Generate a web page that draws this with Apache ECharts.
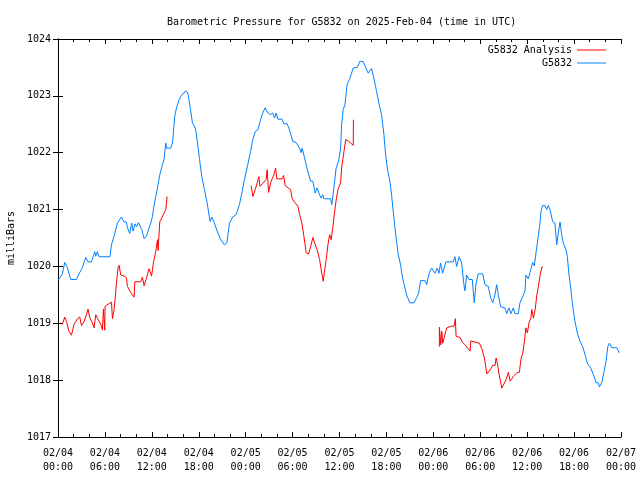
<!DOCTYPE html>
<html>
<head>
<meta charset="utf-8">
<script src="https://cdn.jsdelivr.net/npm/echarts@6/dist/echarts.min.js"></script>
<style>html,body{margin:0;padding:0;background:#fff;}#chart{width:640px;height:480px;}</style>
</head>
<body>
<div id="chart"></div>
<script>
// x in hours since 2025-02-04 00:00 UTC
var xTickLabels = ["02/04\n00:00","02/04\n06:00","02/04\n12:00","02/04\n18:00","02/05\n00:00","02/05\n06:00","02/05\n12:00","02/05\n18:00","02/06\n00:00","02/06\n06:00","02/06\n12:00","02/06\n18:00","02/07\n00:00"];
var yTickLabels = ["1017","1018","1019","1020","1021","1022","1023","1024"];

var stationHours = [0.0,0.56,0.86,1.20,1.63,2.35,2.69,3.12,3.54,3.84,4.27,4.70,4.82,5.04,5.25,6.65,6.83,7.17,7.60,8.11,8.45,8.75,8.88,9.17,9.43,9.60,9.85,10.03,10.29,10.71,11.01,11.31,11.65,11.86,12.08,12.28,12.50,12.72,13.01,13.36,13.56,13.78,13.91,14.42,14.64,14.93,15.15,15.48,15.83,16.12,16.34,16.60,16.89,17.20,17.40,17.62,17.84,18.10,18.39,18.73,19.07,19.45,19.67,20.01,20.44,20.78,21.29,21.59,21.93,22.35,22.78,23.21,23.55,23.85,24.27,24.62,24.91,25.21,25.55,25.90,26.19,26.49,26.83,27.18,27.47,27.69,27.90,28.11,28.66,28.88,29.30,29.61,30.03,30.45,30.89,31.09,31.22,31.53,31.95,32.30,32.59,32.89,33.14,33.45,33.65,33.87,34.00,34.86,35.02,35.28,35.57,35.88,36.14,36.27,36.47,36.69,36.98,37.33,37.55,37.75,38.26,38.61,39.03,39.37,39.67,40.10,40.44,40.74,41.08,41.38,41.68,41.89,42.15,42.44,42.66,42.87,43.09,43.30,43.51,43.81,44.02,44.27,44.58,45.00,45.52,45.86,46.12,46.37,46.92,47.14,47.47,47.78,48.20,48.50,48.72,48.93,49.19,49.61,50.54,50.76,50.98,51.31,51.62,51.91,52.04,52.26,52.55,52.98,53.23,53.45,53.74,54.31,54.60,55.02,55.33,55.59,55.88,56.10,56.31,56.61,57.16,57.38,57.67,57.93,58.22,58.44,58.86,59.08,59.43,59.72,59.85,60.14,60.45,60.70,60.91,61.13,61.42,61.64,61.77,61.98,62.28,62.50,62.70,62.92,63.26,63.56,63.78,63.98,64.20,64.42,64.62,64.97,65.13,65.35,65.57,65.82,66.12,66.41,66.76,67.10,67.40,67.69,68.13,68.46,68.81,69.10,69.23,69.54,69.83,70.09,70.31,70.51,70.82,71.46,71.79];
var stationPressure = [1019.75,1019.87,1020.07,1019.98,1019.77,1019.77,1019.87,1019.98,1020.16,1020.08,1020.08,1020.26,1020.18,1020.26,1020.17,1020.17,1020.38,1020.53,1020.76,1020.87,1020.78,1020.78,1020.68,1020.58,1020.76,1020.62,1020.75,1020.70,1020.77,1020.65,1020.49,1020.53,1020.68,1020.76,1020.88,1021.07,1021.23,1021.38,1021.61,1021.79,1021.88,1022.17,1022.08,1022.08,1022.17,1022.64,1022.79,1022.93,1023.02,1023.05,1023.09,1023.05,1022.81,1022.52,1022.48,1022.40,1022.17,1021.88,1021.58,1021.35,1021.12,1020.79,1020.87,1020.76,1020.59,1020.48,1020.38,1020.41,1020.76,1020.87,1020.91,1021.09,1021.32,1021.53,1021.79,1022.02,1022.23,1022.37,1022.40,1022.58,1022.70,1022.79,1022.70,1022.67,1022.70,1022.61,1022.70,1022.59,1022.59,1022.51,1022.51,1022.40,1022.20,1022.18,1022.08,1022.00,1022.08,1021.91,1021.67,1021.50,1021.50,1021.29,1021.38,1021.26,1021.20,1021.26,1021.19,1021.19,1021.09,1021.38,1021.73,1021.85,1022.08,1022.49,1022.76,1022.84,1023.20,1023.31,1023.40,1023.49,1023.50,1023.61,1023.60,1023.49,1023.40,1023.48,1023.28,1023.08,1022.84,1022.67,1022.32,1021.97,1021.70,1021.50,1021.26,1020.97,1020.68,1020.44,1020.21,1020.03,1019.83,1019.68,1019.50,1019.36,1019.36,1019.45,1019.53,1019.75,1019.75,1019.68,1019.88,1019.97,1019.88,1019.97,1019.88,1020.06,1019.88,1020.08,1020.08,1020.17,1020.00,1020.17,1020.06,1019.68,1019.57,1019.85,1019.77,1019.77,1019.36,1019.68,1019.87,1019.87,1019.68,1019.65,1019.45,1019.36,1019.50,1019.68,1019.50,1019.29,1019.27,1019.17,1019.27,1019.17,1019.27,1019.17,1019.17,1019.36,1019.47,1019.57,1019.85,1019.78,1019.94,1020.07,1020.01,1020.24,1020.53,1020.76,1020.97,1021.07,1021.07,1021.00,1021.07,1021.00,1020.79,1020.76,1020.38,1020.59,1020.78,1020.56,1020.41,1020.29,1020.18,1019.85,1019.62,1019.30,1019.03,1018.83,1018.68,1018.59,1018.45,1018.30,1018.21,1018.10,1017.96,1017.95,1017.88,1017.96,1018.15,1018.33,1018.59,1018.65,1018.57,1018.57,1018.48];

var analysisHours = [0.56,0.86,1.08,1.41,1.72,2.05,2.48,2.78,3.00,3.33,3.64,3.84,4.10,4.40,4.61,4.83,5.04,5.25,5.47,5.68,5.81,5.98,6.02,6.45,6.84,6.96,7.17,7.30,7.48,7.68,7.81,8.03,8.45,8.75,8.88,9.31,9.73,9.82,10.59,10.80,11.01,11.32,11.65,11.96,12.21,12.50,12.72,12.80,13.02,13.27,13.57,13.79,13.95,
  19.0,
  24.70,24.92,25.22,25.47,25.69,25.82,25.98,26.20,26.62,26.75,26.93,27.19,27.35,27.61,27.83,27.99,28.67,28.85,29.06,29.31,29.75,29.95,30.26,30.68,30.90,31.19,31.45,31.74,32.05,32.31,32.60,32.90,33.15,33.46,33.66,33.92,34.10,34.30,34.52,34.74,34.94,35.16,35.38,35.58,35.80,36.01,36.14,36.27,36.57,36.79,37.12,37.76,37.78,
  43.0,
  48.77,48.78,48.95,49.08,49.20,49.37,49.72,50.36,50.65,50.82,50.91,51.42,51.71,52.06,52.48,52.70,52.79,53.34,53.89,54.20,54.53,54.84,55.26,55.60,55.90,56.03,56.19,56.41,56.76,56.96,57.31,57.60,57.82,58.24,58.68,59.01,59.19,59.44,59.65,59.83,60.03,60.25,60.47,60.60,60.80,61.02,61.24,61.44,61.66,61.88,62.00];
var analysisPressure = [1018.98,1019.11,1019.03,1018.86,1018.79,1018.98,1019.08,1019.11,1018.96,1019.03,1019.15,1019.25,1019.08,1019.01,1018.92,1019.15,1019.09,1019.06,1018.98,1018.88,1019.25,1018.88,1019.30,1019.34,1019.37,1019.08,1019.24,1019.42,1019.71,1019.97,1020.02,1019.85,1019.83,1019.80,1019.65,1019.54,1019.46,1019.73,1019.73,1019.81,1019.66,1019.80,1019.96,1019.83,1020.07,1020.26,1020.47,1020.28,1020.79,1020.85,1020.94,1021.00,1021.23,
  null,
  1021.42,1021.23,1021.35,1021.47,1021.58,1021.41,1021.42,1021.46,1021.53,1021.70,1021.30,1021.47,1021.53,1021.61,1021.73,1021.54,1021.54,1021.60,1021.42,1021.40,1021.35,1021.19,1021.13,1021.06,1020.91,1020.76,1020.53,1020.24,1020.22,1020.35,1020.51,1020.38,1020.29,1020.12,1019.94,1019.74,1019.94,1020.12,1020.38,1020.56,1020.47,1020.70,1020.97,1021.17,1021.35,1021.38,1021.47,1021.73,1022.02,1022.23,1022.21,1022.13,1022.58,
  null,
  1018.59,1018.93,1018.62,1018.86,1018.65,1018.74,1018.92,1018.95,1018.95,1019.08,1018.77,1018.75,1018.67,1018.62,1018.55,1018.51,1018.69,1018.67,1018.65,1018.55,1018.39,1018.11,1018.18,1018.26,1018.26,1018.39,1018.30,1018.10,1017.86,1017.86,1018.01,1018.14,1017.98,1018.07,1018.13,1018.14,1018.36,1018.48,1018.68,1018.92,1018.83,1019.02,1019.09,1019.24,1019.09,1019.24,1019.50,1019.65,1019.85,1019.99,1019.99];

function zip(xs, ys) {
  var n = Math.min(xs.length, ys.length), out = [];
  for (var i = 0; i < n; i++) out.push([xs[i], ys[i] === null ? null : ys[i]]);
  return out;
}

var FONT = 'DejaVu Sans Mono';
var chart = echarts.init(document.getElementById('chart'), null, {renderer: 'canvas'});

function xAxisDef(pos, showLabels) {
  return {
    type: 'value', position: pos, min: 0, max: 72, interval: 6,
    axisLine: {show: true, lineStyle: {color: '#000', width: 1}},
    axisTick: {show: true, inside: true, length: 5, lineStyle: {color: '#000'}},
    minorTick: {show: true, splitNumber: 3, length: 3, lineStyle: {color: '#000'}},
    splitLine: {show: false},
    axisLabel: {
      show: showLabels, margin: 9, color: '#000', fontFamily: FONT, fontSize: 10, lineHeight: 14,
      formatter: function (v) { return xTickLabels[Math.round(v / 6)] || ''; }
    }
  };
}
function yAxisDef(pos, showLabels) {
  return {
    type: 'value', position: pos, min: 1017, max: 1024, interval: 1,
    name: showLabels ? 'milliBars' : '', nameLocation: 'middle', nameGap: 41, nameRotate: 90,
    nameTextStyle: {color: '#000', fontFamily: FONT, fontSize: 10},
    axisLine: {show: true, lineStyle: {color: '#000', width: 1}},
    axisTick: {show: true, inside: true, length: 5, lineStyle: {color: '#000'}},
    splitLine: {show: false},
    axisLabel: {show: showLabels, margin: 7, color: '#000', fontFamily: FONT, fontSize: 10,
      formatter: function (v) { return yTickLabels[Math.round(v - 1017)] || ''; }}
  };
}

chart.setOption({
  animation: false,
  backgroundColor: '#fff',
  title: {
    text: 'Barometric Pressure for G5832 on 2025-Feb-04 (time in UTC)',
    left: 162, top: 12,
    textStyle: {color: '#000', fontFamily: FONT, fontSize: 10, fontWeight: 'normal'}
  },
  legend: [
    {data: [{name: 'G5832 Analysis', icon: 'rect'}], orient: 'vertical', align: 'right', right: 29, top: 40,
     itemWidth: 29, itemHeight: 1, itemGap: 6, textStyle: {color: '#000', fontFamily: FONT, fontSize: 10}, selectedMode: false},
    {data: [{name: 'G5832', icon: 'rect'}], orient: 'vertical', align: 'right', right: 29, top: 53,
     itemWidth: 29, itemHeight: 1, itemGap: 6, textStyle: {color: '#000', fontFamily: FONT, fontSize: 10}, selectedMode: false}
  ],
  grid: {left: 58, top: 39, width: 563, height: 398, containLabel: false, outerBoundsMode: 'none'},
  xAxis: [xAxisDef('bottom', true), xAxisDef('top', false)],
  yAxis: [yAxisDef('left', true), yAxisDef('right', false)],
  series: [
    {name: 'G5832 Analysis', type: 'line', xAxisIndex: 0, yAxisIndex: 0, showSymbol: false, symbol: 'none',
     connectNulls: false, color: '#ff0000', lineStyle: {color: '#ff0000', width: 1},
     data: zip(analysisHours, analysisPressure)},
    {name: 'G5832', type: 'line', xAxisIndex: 0, yAxisIndex: 0, showSymbol: false, symbol: 'none',
     color: '#0080ff', lineStyle: {color: '#0080ff', width: 1},
     data: zip(stationHours, stationPressure)}
  ]
});
</script>
</body>
</html>
